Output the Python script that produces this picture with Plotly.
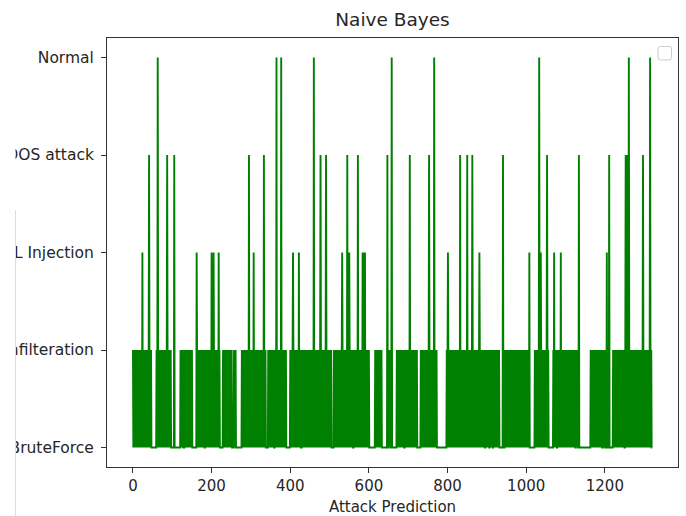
import plotly.graph_objects as go

# ---------------- data ----------------
N_POINTS = 1321
level_labels = ["BruteForce", "Infilteration", "SQL Injection", "DDOS attack", "Normal"]
level_values = [0, 1, 2, 3, 4]
x_tick_values = [0, 200, 400, 600, 800, 1000, 1200]

# dense bursts of "Infilteration" predictions (sample index ranges)
infil_start = [0, 60, 121, 132, 163, 177, 184, 229, 257, 277, 344, 361, 400, 430,
               472, 511, 562, 616, 651, 671, 692, 706, 732, 798, 820, 852, 880,
               897, 908, 917, 925, 946, 978, 1022, 1069, 1080, 1098, 1112, 1127,
               1164, 1196, 1221, 1252, 1278, 1292]
infil_end = [47, 96, 127, 151, 175, 182, 220, 252, 262, 337, 358, 390, 426, 471,
             505, 560, 600, 633, 656, 690, 704, 722, 772, 818, 850, 878, 895,
             905, 914, 923, 931, 976, 1009, 1056, 1078, 1096, 1110, 1125, 1132,
             1192, 1200, 1250, 1276, 1290, 1319]

# isolated predictions of the higher classes (sample indices)
sql_idx = [24, 162, 200, 205, 218, 307, 407, 422, 532, 550, 584, 587, 590,
           801, 881, 1008, 1037, 1071, 1088, 1205]
ddos_idx = [41, 87, 105, 295, 333, 477, 491, 545, 572, 647, 704, 753, 832,
            850, 863, 941, 1053, 1134, 1211, 1253, 1256, 1297]
normal_idx = [63, 365, 377, 460, 658, 766, 1033, 1261, 1315]

# ---------------- build series ----------------
x = list(range(N_POINTS))
y = [0] * N_POINTS
for s, e in zip(infil_start, infil_end):
    for i in range(s, e + 1):
        if (i - s) % 2 == 0:
            y[i] = 1
for i in sql_idx:
    y[i] = 2
for i in ddos_idx:
    y[i] = 3
for i in normal_idx:
    y[i] = 4

FONT = "DejaVu Sans"
TXT = "#262626"
AX = "#333333"

fig = go.Figure()
fig.add_trace(go.Scatter(
    x=x, y=y, mode="lines",
    line=dict(color="#008000", width=1.9, simplify=False),
    showlegend=False, hoverinfo="skip",
))

W, H = 686, 516
L, R, T, B = 107, 8, 38, 49
pw, ph = W - L - R, H - T - B


def px_x(p):
    return (p - L) / pw


def px_y(p):
    return (H - B - p) / ph


# empty legend box (rounded square) at the top right
x0, x1, y0, y1, r = px_x(658), px_x(671.5), px_y(60), px_y(46.5), 2.5
rx, ry = r / pw, r / ph
legend_path = (
    f"M {x0+rx},{y0} L {x1-rx},{y0} Q {x1},{y0} {x1},{y0+ry} "
    f"L {x1},{y1-ry} Q {x1},{y1} {x1-rx},{y1} L {x0+rx},{y1} "
    f"Q {x0},{y1} {x0},{y1-ry} L {x0},{y0+ry} Q {x0},{y0} {x0+rx},{y0} Z"
)

shapes = [
    dict(type="path", xref="paper", yref="paper", path=legend_path,
         line=dict(color="#cccccc", width=1), fillcolor="white", layer="above"),
    # white margin that crops the long tick labels on the left
    dict(type="rect", xref="paper", yref="paper",
         x0=px_x(-5), x1=px_x(15.5), y0=px_y(H + 5), y1=px_y(-5),
         fillcolor="white", line=dict(width=0), layer="above"),
    # faint vertical crop line
    dict(type="line", xref="paper", yref="paper",
         x0=px_x(15.5), x1=px_x(15.5), y0=px_y(210), y1=px_y(H + 2),
         line=dict(color="#dddddd", width=1), layer="above"),
]

fig.update_layout(
    width=W, height=H,
    margin=dict(l=L, r=R, t=T, b=B, pad=0, autoexpand=False),
    paper_bgcolor="white", plot_bgcolor="white",
    font=dict(family=FONT, color=TXT, size=15),
    title=dict(text="Naive Bayes", x=0.5, xref="paper", xanchor="center",
               y=1 - 20 / H, yref="container", yanchor="middle",
               font=dict(family=FONT, size=18.5, color=TXT)),
    shapes=shapes,
    showlegend=False,
)

fig.update_xaxes(
    range=[-66, 1386], tickvals=x_tick_values, automargin=False,
    ticks="outside", ticklen=5, tickwidth=1, tickcolor=AX,
    showline=True, linecolor=AX, linewidth=1, mirror=True,
    showgrid=False, zeroline=False,
    tickfont=dict(family=FONT, size=15, color=TXT),
    title=dict(text="Attack Prediction", font=dict(family=FONT, size=15, color=TXT),
               standoff=8),
)
fig.update_yaxes(
    range=[-0.2, 4.2], tickvals=level_values, ticktext=level_labels, automargin=False,
    ticks="outside", ticklen=5, tickwidth=1, tickcolor=AX, ticklabelstandoff=4,
    showline=True, linecolor=AX, linewidth=1, mirror=True,
    showgrid=False, zeroline=False,
    tickfont=dict(family=FONT, size=15.5, color=TXT),
)

fig.write_html("out.html")
